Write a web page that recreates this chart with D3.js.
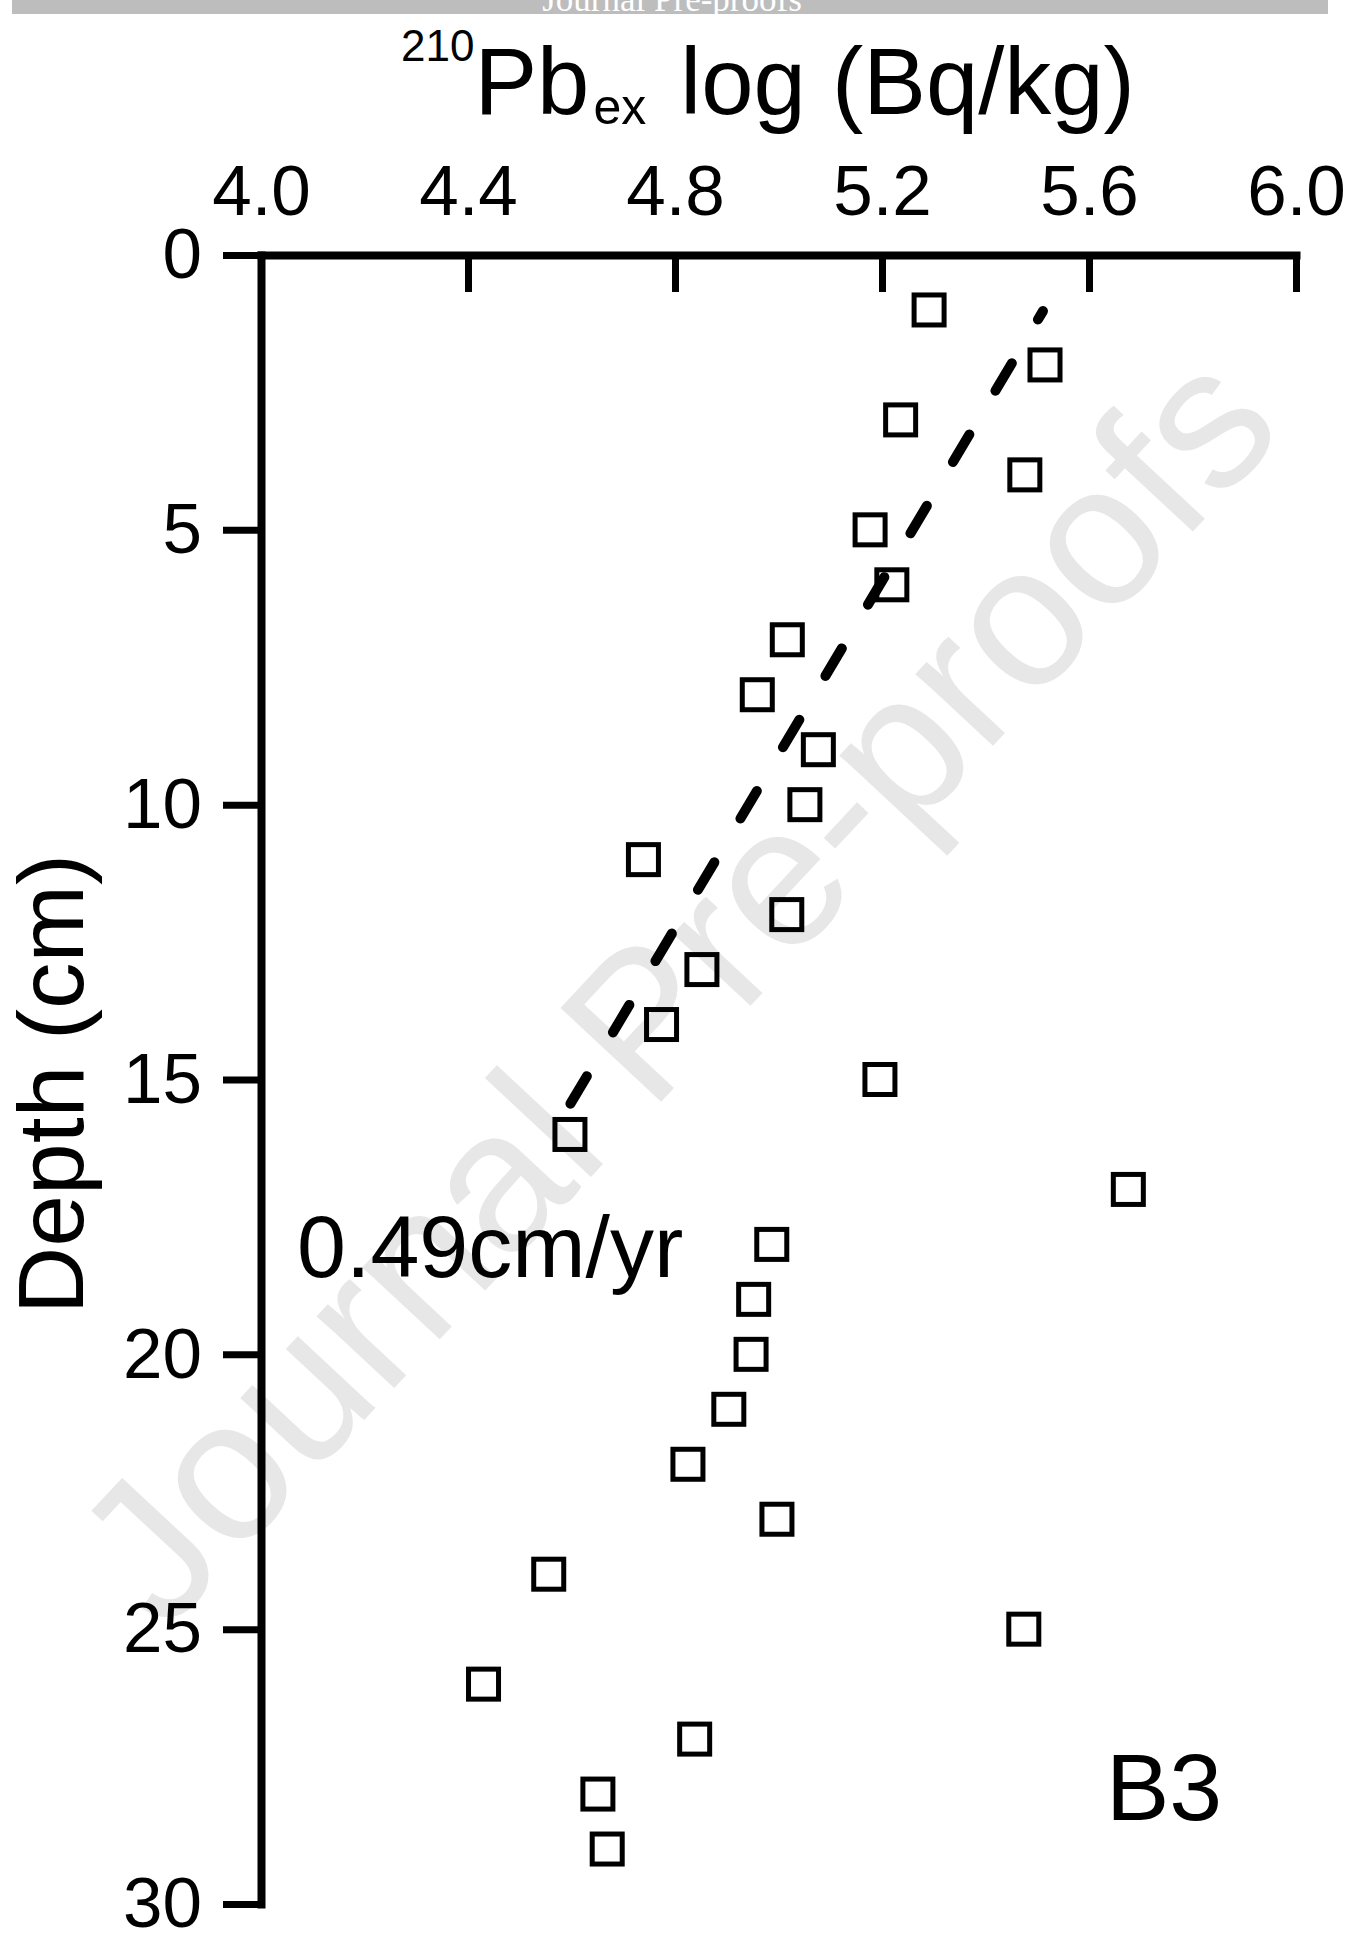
<!DOCTYPE html>
<html>
<head>
<meta charset="utf-8">
<script src="https://cdn.jsdelivr.net/npm/d3@7"></script>
<style>
  body { margin: 0; background: #fff; }
  svg { display: block; }
</style>
</head>
<body>
<div id="wrapper"></div>
<script>
// 210Pb excess profile, core B3
const depths = [1, 2, 3, 4, 5, 6, 7, 8, 9, 10, 11, 12, 13, 14, 15, 16, 17, 18, 19, 20, 21, 22, 23, 24, 25, 26, 27, 28, 29];
const logActivity = [5.291, 5.515, 5.236, 5.476, 5.177, 5.219, 5.017, 4.959, 5.077, 5.051,
                     4.739, 5.016, 4.852, 4.774, 5.196, 4.597, 5.676, 4.987, 4.952, 4.947,
                     4.904, 4.825, 4.997, 4.556, 5.474, 4.430, 4.838, 4.651, 4.669];

// dashed regression line end points (bottom first)
const fitDepths = [15.44, 1.02];
const fitValues = [4.598, 5.511];

const xTicks = [4.0, 4.4, 4.8, 5.2, 5.6, 6.0];
const yTicks = [0, 5, 10, 15, 20, 25, 30];

const rateLabel = "0.49cm/yr";
const coreLabel = "B3";

function drawProfile() {
    const dataset = depths.map((d, i) => ({ depth: d, value: logActivity[i] }));
    const fit = fitDepths.map((d, i) => ({ depth: d, value: fitValues[i] }));

    const xAccessor = dp => dp.value;
    const yAccessor = dp => dp.depth;

    const font = "'Liberation Sans', Arial, Helvetica, sans-serif";

    let dimensions = {
        width: 1359,
        height: 1933,
        margin: {
            top: 255,
            right: 63,
            bottom: 29,
            left: 261,
        },
    }

    dimensions = {
        ...dimensions,
        boundedWidth: dimensions.width - dimensions.margin.left - dimensions.margin.right,
        boundedHeight: dimensions.height - dimensions.margin.top - dimensions.margin.bottom,
    }

    const wrapper = d3.select('#wrapper')
        .append('svg')
            .attr("width", dimensions.width)
            .attr("height", dimensions.height)
            .style("font-family", font);

    wrapper.append("rect")
        .attr("width", dimensions.width)
        .attr("height", dimensions.height)
        .attr("fill", "#fff");

    // watermark sits behind the chart
    wrapper.append("text")
        .attr("transform", "translate(675, 985) rotate(-47)")
        .attr("text-anchor", "middle")
        .attr("dominant-baseline", "central")
        .attr("font-size", 200)
        .attr("fill", "#e7e7e7")
        .text("Journal Pre-proofs");

    // grey banner at the top
    wrapper.append("clipPath")
        .attr("id", "bannerClip")
        .append("rect")
            .attr("x", 12).attr("y", 0)
            .attr("width", 1316).attr("height", 14);

    const banner = wrapper.append("g").attr("clip-path", "url(#bannerClip)");
    banner.append("rect")
        .attr("x", 12).attr("y", 0)
        .attr("width", 1316).attr("height", 14)
        .attr("fill", "#bdbdbd");
    banner.append("text")
        .attr("x", 672).attr("y", 11)
        .attr("text-anchor", "middle")
        .attr("font-family", "'Liberation Serif', 'Times New Roman', serif")
        .attr("font-size", 35)
        .attr("fill", "#fff")
        .text("Journal Pre-proofs");

    const bounds = wrapper.append("g")
        .attr("transform", `translate(${dimensions.margin.left}, ${dimensions.margin.top})`);

    const xScale = d3.scaleLinear()
        .domain([4.0, 6.0])
        .range([0, dimensions.boundedWidth]);

    const yScale = d3.scaleLinear()
        .domain([0, 30])
        .range([0, dimensions.boundedHeight]);

    // top axis, ticks pointing down into the plot
    const xAxisGenerator = d3.axisTop()
        .scale(xScale)
        .tickValues(xTicks)
        .tickFormat(d3.format(".1f"))
        .tickSizeInner(-37)
        .tickSizeOuter(0)
        .tickPadding(40);

    const xAxis = bounds.append("g")
        .call(xAxisGenerator);

    // left axis, ticks pointing outwards
    const yAxisGenerator = d3.axisLeft()
        .scale(yScale)
        .tickValues(yTicks)
        .tickSizeInner(38)
        .tickSizeOuter(0)
        .tickPadding(21);

    const yAxis = bounds.append("g")
        .call(yAxisGenerator);

    [xAxis, yAxis].forEach(axis => {
        axis.attr("font-family", null).attr("font-size", null);
        axis.select(".domain")
            .attr("stroke", "#000")
            .attr("stroke-width", 8)
            .attr("stroke-linecap", "square");
        axis.selectAll(".tick line")
            .attr("stroke", "#000")
            .attr("stroke-width", 7);
        axis.selectAll(".tick text")
            .attr("fill", "#000")
            .attr("font-size", 71);
    });
    yAxis.selectAll(".tick text").attr("dy", "0.32em");

    // dashed fit line
    const lineGenerator = d3.line()
        .x(dp => xScale(xAccessor(dp)))
        .y(dp => yScale(yAccessor(dp)));

    bounds.append("path")
        .attr("d", lineGenerator(fit))
        .attr("fill", "none")
        .attr("stroke", "#000")
        .attr("stroke-width", 10)
        .attr("stroke-linecap", "round")
        .attr("stroke-dasharray", "32,51");

    // open squares
    const size = 30;
    bounds.append("g")
        .selectAll("rect")
        .data(dataset)
        .join("rect")
            .attr("x", dp => xScale(xAccessor(dp)) - size / 2)
            .attr("y", dp => yScale(yAccessor(dp)) - size / 2)
            .attr("width", size)
            .attr("height", size)
            .attr("fill", "none")
            .attr("stroke", "#000")
            .attr("stroke-width", 5);

    // axis titles
    const title = wrapper.append("text")
        .attr("x", 401)
        .attr("fill", "#000");
    title.append("tspan").attr("y", 61).attr("font-size", 44).text("210");
    title.append("tspan").attr("y", 114).attr("font-size", 94).text("Pb");
    title.append("tspan").attr("y", 124).attr("dx", 4).attr("font-size", 50).text("ex");
    title.append("tspan").attr("y", 114).attr("dx", 8).attr("font-size", 94).text(" log (Bq/kg)");

    wrapper.append("text")
        .attr("transform", "translate(83, 1084) rotate(-90)")
        .attr("text-anchor", "middle")
        .attr("font-size", 93)
        .attr("fill", "#000")
        .text("Depth (cm)");

    // annotations
    wrapper.append("text")
        .attr("x", 297)
        .attr("y", 1277)
        .attr("font-size", 88)
        .attr("fill", "#000")
        .text(rateLabel);

    wrapper.append("text")
        .attr("x", 1106)
        .attr("y", 1820)
        .attr("font-size", 95)
        .attr("fill", "#000")
        .text(coreLabel);
}

drawProfile();
</script>
</body>
</html>
